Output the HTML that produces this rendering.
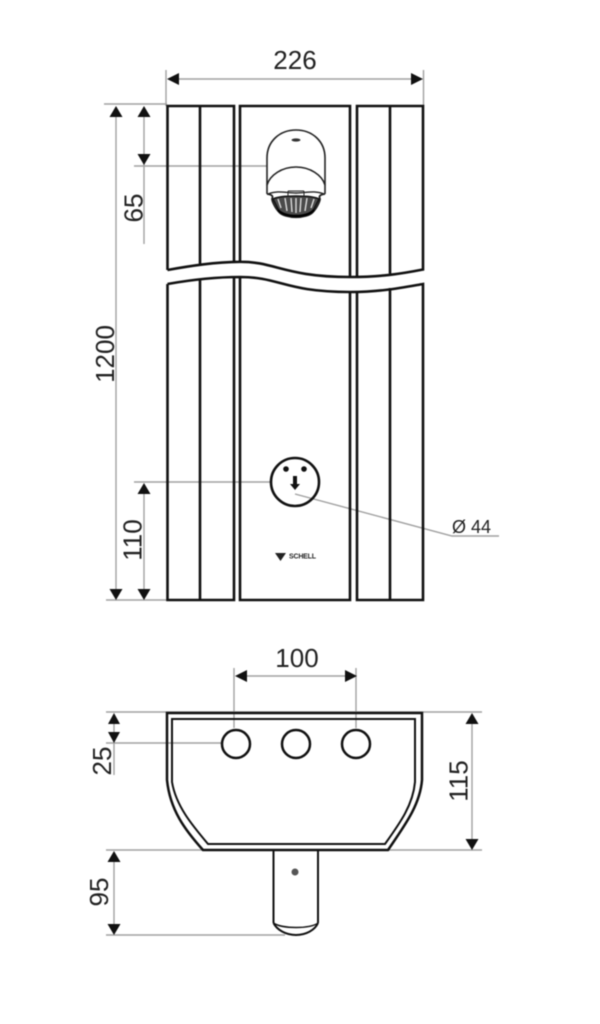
<!DOCTYPE html>
<html>
<head>
<meta charset="utf-8">
<style>
html,body{margin:0;padding:0;background:#fff;width:600px;height:1024px;overflow:hidden}
svg{display:block;filter:blur(0.5px)}
text{font-family:"Liberation Sans",sans-serif;fill:#222}
</style>
</head>
<body>
<svg width="600" height="1024" viewBox="0 0 600 1024" xmlns="http://www.w3.org/2000/svg">
<rect width="600" height="1024" fill="#fff"/>

<!-- Dimension lines -->
<g stroke="#a0a0a0" stroke-width="1.400" fill="none">
<path d="M166 70V106M423.500 70V106M170 79H420"/>
<path d="M104 104H167M116 110V596M144 110V244M134 166H267"/>
<path d="M134 482H270M144 486V596M106 600H167"/>
<path d="M295 494L452 536H499"/>
<path d="M234 668V728M356 668V728M238 676H352"/>
<path d="M106 712H482M106 850H482M114 716V775M106 743H222"/>
<path d="M472 716V846M114 854V932M106 935H285"/>
</g>

<!-- Front panels -->
<g stroke="#111" stroke-width="2.600" fill="none" stroke-linejoin="miter">
<path d="M167.500 270V106H234V262.500M167.500 270C190 266 215 262 240 261.800C275 261.500 285 277 350 277C380 277 400 274 423 269.500V106H357V277M240 261.800V106H350V277M200 106V266M390 106V273.500"/>
<path d="M167.500 284C190 280 215 277 240 277C280 277 285 292 350 292C380 292 400 288 423 284V600H357V291.500M167.500 284V600H234V277.500M240 277V600H350V292M200 279V600M390 288V600"/>
</g>

<!-- Faucet -->
<g fill="none" stroke="#222" stroke-width="1.600">
<path d="M267 194V158C267 141 280 130 296 130C312 130 325 141 325 158V194"/>
<path d="M267 185C270 175 282 167 296 167C310 167 322 175 325 185"/>
<path d="M267 194C275 195 272 198 272 199C272 201 275 208 279 212C285 219 307 219 313 212C317 208 320 201 320 199C320 198 317 195 325 194" stroke-width="1.800"/>
<path d="M268 194C278 190 286 193 296 193C306 193 314 190 324 194" stroke-width="1.400"/>
<path d="M273 199C280 195 312 195 319 199L313 211C306 218 286 218 279 211Z" fill="#4a4a4a" stroke="#111" stroke-width="1.500"/>
<path d="M278 199L281 208M285 198L287 211M291 198L292 212M296 198V213M301 198L300 212M307 198L305 211M314 199L311 208" stroke="#ddd" stroke-width="1.400"/>
<path d="M278 210C285 218 307 218 314 210" stroke="#000" stroke-width="2.400"/>
<path d="M288 191V196M304 191V196M288 191H304" stroke-width="1"/>
</g>
<ellipse cx="296" cy="140" rx="4.500" ry="1.600" fill="#333"/>

<!-- Front hole -->
<circle cx="295" cy="482" r="24" fill="none" stroke="#111" stroke-width="2.600"/>
<circle cx="286" cy="469" r="2.800" fill="#111"/>
<circle cx="304" cy="469" r="2.800" fill="#111"/>
<path d="M293 476H297V484H300L295 490L290 484H293Z" fill="#111"/>

<!-- Logo -->
<path d="M275 553H286L280.500 561Z" fill="#222"/>
<text x="289" y="558.500" font-size="7" font-weight="700" textLength="27">SCHELL</text>

<!-- Lower view -->
<g fill="none" stroke="#111" stroke-width="2.500" stroke-linejoin="miter">
<path d="M167 713H422V780C420 805 405 825 388 850H203C185 830 170 810 167 780Z"/>
<path d="M172 719H415V782C413 805 400 823 385 844H208C192 825 176 806 172 782Z" stroke-width="2"/>
</g>
<g fill="none" stroke="#111" stroke-width="2.500">
<circle cx="236" cy="744" r="14"/>
<circle cx="296" cy="744" r="14"/>
<circle cx="356" cy="744" r="14"/>
</g>

<!-- Tube -->
<g fill="none" stroke="#111" stroke-width="2">
<path d="M273.500 851V923M318 851V923"/>
<path d="M273.500 923C277 930 286 935 296 935C306 935 315 930 318 923"/>
<path d="M273.500 923C282 929 310 929 318 923" stroke-width="1.400"/>
</g>
<circle cx="295" cy="872" r="3.500" fill="#555"/>

<!-- Arrowheads -->
<g fill="#111">
<path d="M167 79L179 73V85ZM423 79L411 73V85Z"/>
<path d="M116 106L122.500 117H109.500ZM116 600L109.500 589H122.500Z"/>
<path d="M144 106L150.500 117H137.500ZM144 165L137.500 154H150.500Z"/>
<path d="M144 483L150.500 494H137.500ZM144 600L137.500 589H150.500Z"/>
<path d="M235 676L247 670V682ZM357 676L345 670V682Z"/>
<path d="M114 713L120 724H108ZM114 743L108 732H120Z"/>
<path d="M472 713L478.500 724H465.500ZM472 850L465.500 839H478.500Z"/>
<path d="M114 851L120.500 862H107.500ZM114 935L107.500 924H120.500Z"/>
</g>

<!-- Labels -->
<text x="295" y="69" font-size="26" text-anchor="middle">226</text>
<text x="297" y="667" font-size="26" text-anchor="middle">100</text>
<text font-size="26" text-anchor="middle" transform="translate(114 354) rotate(-90)">1200</text>
<text font-size="26" text-anchor="middle" transform="translate(142.500 208) rotate(-90)">65</text>
<text font-size="26" text-anchor="middle" transform="translate(141.500 540) rotate(-90)">110</text>
<text font-size="26" text-anchor="middle" transform="translate(111 761) rotate(-90)">25</text>
<text font-size="26" text-anchor="middle" transform="translate(467.500 781) rotate(-90)">115</text>
<text font-size="26" text-anchor="middle" transform="translate(108 892) rotate(-90)">95</text>
<text x="452" y="533" font-size="18">Ø 44</text>
</svg>
</body>
</html>
